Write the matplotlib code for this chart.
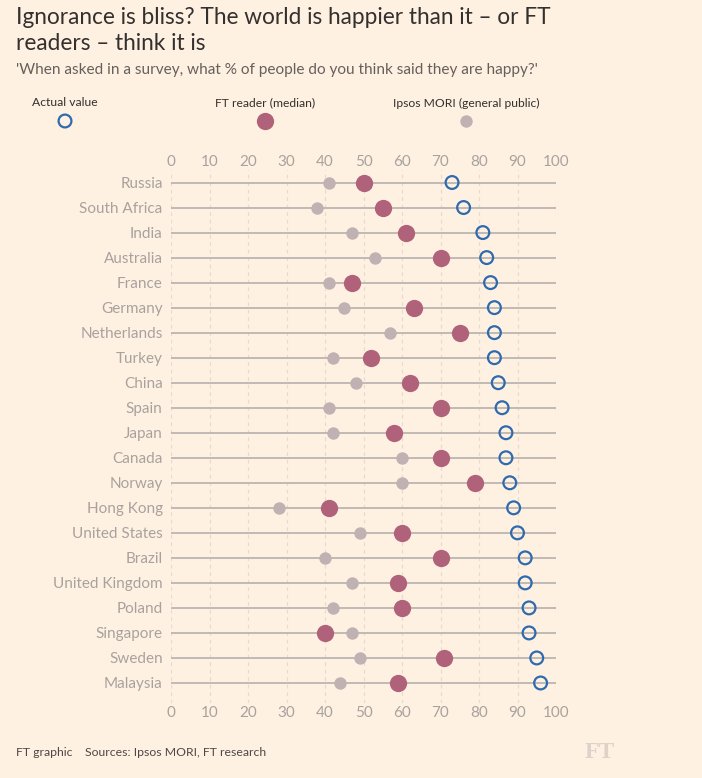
import matplotlib
matplotlib.use("Agg")
import matplotlib.pyplot as plt

countries = ["Russia", "South Africa", "India", "Australia", "France", "Germany",
             "Netherlands", "Turkey", "China", "Spain", "Japan", "Canada", "Norway",
             "Hong Kong", "United States", "Brazil", "United Kingdom", "Poland",
             "Singapore", "Sweden", "Malaysia"]
actual = [73, 76, 81, 82, 83, 84, 84, 84, 85, 86, 87, 87, 88, 89, 90, 92, 92, 93, 93, 95, 96]
ft_reader = [50, 55, 61, 70, 47, 63, 75, 52, 62, 70, 58, 70, 79, 41, 60, 70, 59, 60, 40, 71, 59]
ipsos = [41, 38, 47, 53, 41, 45, 57, 42, 48, 41, 42, 60, 60, 28, 49, 40, 47, 42, 47, 49, 44]
xticks = [0, 10, 20, 30, 40, 50, 60, 70, 80, 90, 100]

BG = "#FFF1E2"
RED = "#B0627A"
GREY = "#C0B1B3"
BLUE = "#2F6AAE"
LINE = "#BCB6B1"
LABEL = "#A8A29E"
FONT = ["Lato", "DejaVu Sans"]
plt.rcParams['font.family'] = FONT

W, H = 702, 778
fig = plt.figure(figsize=(W / 100, H / 100), dpi=100, facecolor=BG)
ax = fig.add_axes([171 / W, 1 - 703 / H, (556 - 171) / W, (703 - 170) / H])
ax.set_facecolor(BG)

ys = list(range(len(countries)))
for y in ys:
    ax.plot([0, 100], [y, y], color=LINE, lw=1.3, zorder=1, solid_capstyle='butt')
for t in xticks:
    ax.axvline(t, color="#E6DBCF", lw=0.9, ls=(0, (3, 3)), zorder=0)

ax.scatter(ipsos, ys, s=80, color=GREY, zorder=3, linewidths=0)
ax.scatter(ft_reader, ys, s=155, color=RED, zorder=4, linewidths=0)
ax.scatter(actual, ys, s=85, facecolor="none", edgecolor=BLUE, linewidths=1.6, zorder=5)

ax.set_xlim(0, 100)
ax.set_ylim(20.8, -0.5)
ax.set_yticks(ys)
ax.set_yticklabels(countries)
ax.set_xticks(xticks)
ax.tick_params(axis='x', top=False, labeltop=False, bottom=False, labelbottom=True,
               length=0, pad=2.5, labelsize=11, labelcolor=LABEL)
ax.tick_params(axis='y', length=0, pad=6, labelsize=11, labelcolor=LABEL)
for s in ax.spines.values():
    s.set_visible(False)

top = ax.secondary_xaxis('top')
top.set_xticks(xticks)
top.tick_params(axis='x', length=0, pad=0.5, labelsize=11, labelcolor=LABEL)
top.spines['top'].set_visible(False)

# Titles
fig.text(16 / W, 1 - 17 / H, "Ignorance is bliss? The world is happier than it – or FT",
         fontsize=16.3, color="#33302E", va='center', ha='left')
fig.text(16 / W, 1 - 43 / H, "readers – think it is",
         fontsize=16.3, color="#33302E", va='center', ha='left')
fig.text(16 / W, 1 - 70 / H, "'When asked in a survey, what % of people do you think said they are happy?'",
         fontsize=11.1, color="#66605C", va='center', ha='left')

# Legend
leg = [("Actual value", 65, dict(s=85, facecolor="none", edgecolor=BLUE, linewidths=1.6)),
       ("FT reader (median)", 265, dict(s=155, color=RED, linewidths=0)),
       ("Ipsos MORI (general public)", 466, dict(s=80, color=GREY, linewidths=0))]
for label, xp, kw in leg:
    fig.text(xp / W, 1 - 103 / H, label, fontsize=8.7, color="#33302E", ha='center', va='center')
lax = fig.add_axes([0, 0, 1, 1], facecolor="none")
lax.set_xlim(0, W)
lax.set_ylim(H, 0)
lax.axis('off')
for label, xp, kw in leg:
    lax.scatter([xp], [121], **kw)

# Footer
fig.text(16 / W, 1 - 752 / H, "FT graphic    Sources: Ipsos MORI, FT research",
         fontsize=8.8, color="#4D4845", ha='left', va='center')
fig.text(600 / W, 1 - 752 / H, "FT", fontsize=17, color="#DDD3C9", ha='center', va='center',
         family=["Liberation Serif", "DejaVu Serif"], fontweight='bold')

fig.savefig("out.png", dpi=100, facecolor=BG)
